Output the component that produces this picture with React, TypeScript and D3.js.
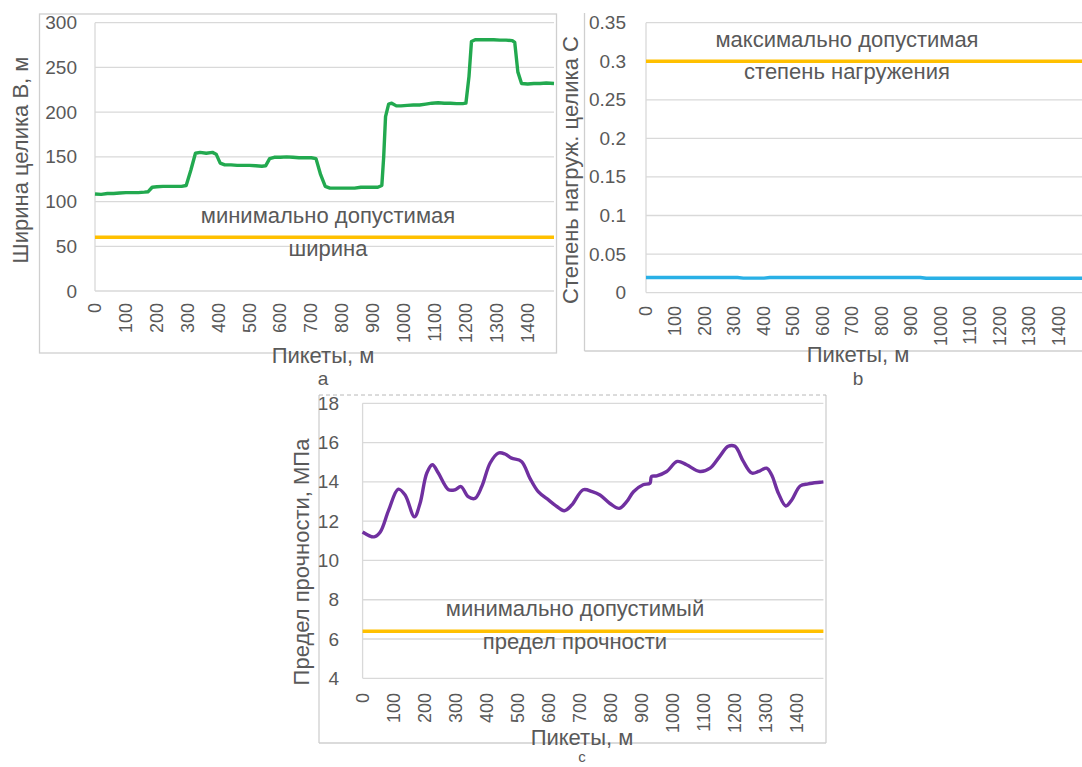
import React from 'react';
import * as d3 from 'd3';

// ---------- data ----------
const pickets = [0, 100, 200, 300, 400, 500, 600, 700, 800, 900, 1000, 1100, 1200, 1300, 1400];
const xMax = 1485;

const widthTicks = [0, 50, 100, 150, 200, 250, 300];
const loadTicks = [0, 0.05, 0.1, 0.15, 0.2, 0.25, 0.3, 0.35];
const strengthTicks = [4, 6, 8, 10, 12, 14, 16, 18];

// Ширина целика B, м
const pillarWidth: [number, number][] = [
  [0, 108.5], [20, 108], [40, 109], [60, 109], [80, 109.5], [100, 110], [120, 110], [140, 110],
  [160, 110.5], [172, 111], [185, 116], [200, 116.5], [220, 117], [240, 117], [260, 117], [280, 117],
  [295, 118], [310, 135], [325, 154], [340, 155], [360, 154], [380, 155], [392, 153], [405, 143],
  [420, 141], [440, 141], [460, 140.5], [480, 140.5], [500, 140.5], [520, 140], [540, 139.5], [552, 140],
  [565, 148], [580, 149.5], [600, 149.5], [620, 150], [640, 149.5], [660, 149], [680, 149], [700, 149],
  [715, 148], [730, 130], [745, 117], [760, 115], [780, 115], [800, 115], [820, 115], [840, 115],
  [860, 116], [880, 116], [900, 116], [915, 116], [928, 118], [934, 150], [940, 195], [950, 209],
  [960, 210], [975, 207], [990, 207], [1010, 207.5], [1030, 208], [1050, 208], [1070, 209], [1090, 210],
  [1110, 210.5], [1130, 210], [1150, 210], [1170, 209.5], [1190, 209.5], [1200, 210], [1210, 240],
  [1218, 279], [1230, 281], [1250, 281], [1270, 281], [1290, 281], [1310, 280.5], [1330, 280.5],
  [1350, 280], [1358, 278], [1368, 245], [1380, 232], [1400, 231.5], [1420, 232], [1440, 232],
  [1460, 232.5], [1485, 232],
];

// Степень нагружения целика C
const pillarLoad: [number, number][] = [
  [0, 0.0195], [100, 0.0195], [200, 0.0195], [310, 0.0195], [330, 0.0188], [400, 0.0188],
  [420, 0.0195], [500, 0.0196], [600, 0.0196], [700, 0.0196], [800, 0.0196], [930, 0.0196],
  [950, 0.0186], [1050, 0.0186], [1200, 0.0186], [1300, 0.0186], [1400, 0.0186], [1485, 0.0186],
];

// Предел прочности, МПа
const strength: [number, number][] = [
  [0, 11.45], [37, 11.2], [57, 11.45], [84, 12.56], [115, 13.63], [137, 13.33], [167, 12.22],
  [185, 12.9], [207, 14.45], [225, 14.87], [244, 14.45], [277, 13.6], [298, 13.6], [317, 13.76],
  [340, 13.25], [362, 13.16], [384, 13.76], [411, 14.96], [438, 15.47], [459, 15.42], [480, 15.21],
  [512, 15.04], [539, 14.19], [566, 13.5], [599, 13.08], [620, 12.82], [650, 12.53], [674, 12.82],
  [711, 13.6], [740, 13.5], [765, 13.33], [797, 12.9], [827, 12.65], [851, 12.99], [873, 13.5],
  [904, 13.85], [926, 13.93], [931, 14.27], [948, 14.31], [980, 14.53], [1014, 15.04], [1044, 14.87],
  [1087, 14.53], [1120, 14.7], [1151, 15.3], [1178, 15.81], [1200, 15.81], [1227, 15.04],
  [1254, 14.45], [1276, 14.53], [1302, 14.7], [1318, 14.36], [1340, 13.42], [1364, 12.77],
  [1383, 13.08], [1410, 13.79], [1436, 13.9], [1474, 13.98], [1485, 14.0],
];

const minWidth = 60;
const maxLoad = 0.3;
const minStrength = 6.4;

// ---------- styling ----------
const FONT = '"Liberation Sans", Arial, sans-serif';
const TEXT = '#595959';
const GRID = '#d9d9d9';
const FRAME = '#cfcfcf';
const YELLOW = '#ffc000';

type PanelProps = {
  x0: number; x1: number;
  yDomain: [number, number]; yTop: number; yBottom: number;
  yTicks: number[]; fmt: (v: number) => string;
  tickRight: number; xLabelTop: number;
  data: [number, number][]; color: string; curve: d3.CurveFactory;
  threshold: number;
  yTitle: string; yTitleX: number; yTitleY: number;
  xTitleX: number; xTitleY: number; letter: string; letterY: number; letterSize: number;
  note1: string; note1Y: number; note2: string; note2Y: number; noteX: number;
};

function Panel(p: PanelProps) {
  const x = d3.scaleLinear().domain([0, xMax]).range([p.x0, p.x1]);
  const y = d3.scaleLinear().domain(p.yDomain).range([p.yBottom, p.yTop]);
  const line = d3.line<[number, number]>().x(d => x(d[0])).y(d => y(d[1])).curve(p.curve);
  const thr: [number, number][] = [[0, p.threshold], [xMax, p.threshold]];
  const thrLine = d3.line<[number, number]>().x(d => x(d[0])).y(d => y(d[1]));
  return (
    <g fontFamily={FONT} fill={TEXT}>
      {p.yTicks.map(t => (
        <line key={'g' + t} x1={p.x0} x2={p.x1} y1={y(t)} y2={y(t)} stroke={GRID} strokeWidth={1.3} />
      ))}
      <line x1={p.x0} x2={p.x0} y1={y(p.yDomain[1])} y2={y(p.yDomain[0])} stroke={GRID} strokeWidth={1.3} />
      {p.yTicks.map(t => (
        <text key={'t' + t} x={p.tickRight} y={y(t)} textAnchor="end" dominantBaseline="central" fontSize={19}>
          {p.fmt(t)}
        </text>
      ))}
      {pickets.map(t => (
        <text key={'x' + t} transform={`translate(${x(t)},${p.xLabelTop}) rotate(-90)`} textAnchor="end"
          dominantBaseline="central" fontSize={18}>{t}</text>
      ))}
      <path d={thrLine(thr) || ''} stroke={YELLOW} strokeWidth={3.5} fill="none" />
      <path d={line(p.data) || ''} stroke={p.color} strokeWidth={3.4} fill="none" strokeLinejoin="round" />
      <text x={p.noteX} y={p.note1Y} textAnchor="middle" fontSize={22}>{p.note1}</text>
      <text x={p.noteX} y={p.note2Y} textAnchor="middle" fontSize={22}>{p.note2}</text>
      <text transform={`translate(${p.yTitleX},${p.yTitleY}) rotate(-90)`} textAnchor="middle"
        dominantBaseline="central" fontSize={22}>{p.yTitle}</text>
      <text x={p.xTitleX} y={p.xTitleY} textAnchor="middle" fontSize={22}>Пикеты, м</text>
      <text x={p.xTitleX} y={p.letterY} textAnchor="middle" fontSize={p.letterSize}>{p.letter}</text>
    </g>
  );
}

const fmtLoad = (v: number) => (v === 0 ? '0' : String(+v.toFixed(2)));
const fmtInt = (v: number) => String(v);

export default function App() {
  return (
    <svg width={1082} height={767} style={{ position: 'absolute', left: 0, top: 0, background: '#fff' }}>
      <rect width={1082} height={767} fill="#fff" />
      {/* frames */}
      <rect x={39.5} y={14} width={517} height={339} fill="none" stroke={FRAME} strokeWidth={1.3} />
      <line x1={584.5} x2={584.5} y1={13} y2={351} stroke={FRAME} strokeWidth={1.3} />
      <line x1={584.5} x2={1082} y1={351} y2={351} stroke={FRAME} strokeWidth={1.3} />
      <line x1={319} x2={319} y1={395} y2={743} stroke={FRAME} strokeWidth={1.3} />
      <line x1={319} x2={826} y1={743} y2={743} stroke={FRAME} strokeWidth={1.3} />
      <line x1={826} x2={826} y1={395} y2={743} stroke={FRAME} strokeWidth={1.3} />
      <line x1={319} x2={826} y1={395} y2={395} stroke="#b8b8b8" strokeWidth={1} strokeDasharray="4,3" />

      <Panel x0={95} x1={554} yDomain={[0, 300]} yTop={22.7} yBottom={291}
        yTicks={widthTicks} fmt={fmtInt} tickRight={77} xLabelTop={303}
        data={pillarWidth} color="#22a94f" curve={d3.curveLinear} threshold={minWidth}
        yTitle="Ширина целика B, м" yTitleX={20} yTitleY={160}
        xTitleX={323} xTitleY={363} letter="a" letterY={385} letterSize={19}
        note1="минимально допустимая" note1Y={223} note2="ширина" note2Y={256} noteX={328} />

      <Panel x0={646} x1={1084} yDomain={[0, 0.35]} yTop={22.7} yBottom={292.6}
        yTicks={loadTicks} fmt={fmtLoad} tickRight={626} xLabelTop={306}
        data={pillarLoad} color="#29b0e6" curve={d3.curveLinear} threshold={maxLoad}
        yTitle="Степень нагруж. целика С" yTitleX={570} yTitleY={170}
        xTitleX={858} xTitleY={362} letter="b" letterY={385} letterSize={19}
        note1="максимально допустимая" note1Y={47} note2="степень нагружения" note2Y={79} noteX={847} />

      <Panel x0={362.6} x1={823.4} yDomain={[4, 18]} yTop={403.3} yBottom={678.3}
        yTicks={strengthTicks} fmt={fmtInt} tickRight={339} xLabelTop={693}
        data={strength} color="#7030a0" curve={d3.curveCatmullRom} threshold={minStrength}
        yTitle="Предел прочности, МПа" yTitleX={301} yTitleY={562}
        xTitleX={582} xTitleY={745} letter="c" letterY={762} letterSize={15}
        note1="минимально допустимый" note1Y={616} note2="предел прочности" note2Y={649} noteX={575} />
    </svg>
  );
}
